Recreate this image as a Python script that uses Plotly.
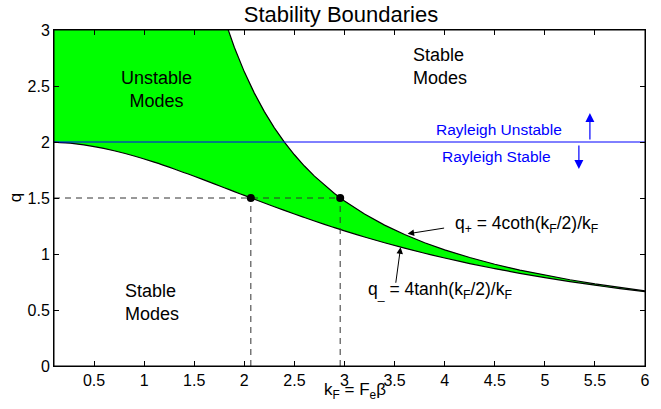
import plotly.graph_objects as go

# k_F grid and the two boundary curves
k_vals = [0.1, 0.3, 0.5, 0.7, 0.9, 1.1, 1.3, 1.5, 1.7, 1.8, 1.9, 2.0, 2.1, 2.2, 2.3,
          2.4, 2.5, 2.6, 2.7, 2.8, 2.9, 3.0, 3.2, 3.4, 3.6, 3.8, 4.0, 4.25, 4.5,
          4.75, 5.0, 5.25, 5.5, 5.75, 6.0]
q_minus = [1.99833, 1.98513, 1.95935, 1.92215, 1.87511, 1.82007, 1.75898, 1.69373,
           1.62605, 1.59177, 1.55743, 1.52319, 1.48915, 1.45545, 1.42218, 1.38943,
           1.35725, 1.32573, 1.29489, 1.26479, 1.23543, 1.20686, 1.15209, 1.10048,
           1.05201, 1.00656, 0.96403, 0.91470, 0.86936, 0.82766, 0.78929, 0.75395,
           0.72135, 0.69124, 0.66337]
q_plus = [800.67, 89.555, 32.664, 16.988, 10.534, 7.2652, 5.3824, 4.1985, 3.4048,
          3.1024, 2.8458, 2.6261, 2.4364, 2.2713, 2.1267, 1.99923, 1.88616, 1.78533,
          1.69496, 1.61356, 1.53995, 1.47306, 1.35623, 1.25771, 1.17353, 1.10080,
          1.03732, 0.96842, 0.90886, 0.85680, 0.81085, 0.76994, 0.73324, 0.70009,
          0.66998]

# marked points where q = 1.5 meets the boundaries
mark_k = [2.065, 2.957]
mark_q = [1.5, 1.5]

rayleigh_q = 2.0
x_range = [0.1, 6.0]
y_range = [0, 3]

x_ticks = [0.5, 1, 1.5, 2, 2.5, 3, 3.5, 4, 4.5, 5, 5.5, 6]
x_tick_labels = ['0.5', '1', '1.5', '2', '2.5', '3', '3.5', '4', '4.5', '5', '5.5', '6']
y_ticks = [0, 0.5, 1, 1.5, 2, 2.5, 3]
y_tick_labels = ['0', '0.5', '1', '1.5', '2', '2.5', '3']

FONT = "Liberation Sans, Arial, Helvetica, sans-serif"

fig = go.Figure()

# lower boundary then upper boundary with fill between
fig.add_trace(go.Scatter(x=k_vals, y=q_minus, mode='lines', line=dict(color='black', width=1.2),
                         line_shape='spline', showlegend=False, hoverinfo='skip'))
fig.add_trace(go.Scatter(x=k_vals, y=q_plus, mode='lines', line=dict(color='black', width=1.2),
                         line_shape='linear', fill='tonexty', fillcolor='#00ff00',
                         showlegend=False, hoverinfo='skip'))

# Rayleigh line
fig.add_trace(go.Scatter(x=x_range, y=[rayleigh_q, rayleigh_q], mode='lines',
                         line=dict(color='#0000ff', width=1), showlegend=False, hoverinfo='skip'))

# dashed guides
fig.add_trace(go.Scatter(x=[x_range[0], mark_k[1]], y=[mark_q[0], mark_q[1]], mode='lines',
                         line=dict(color='#333333', width=1, dash='6px,5px'),
                         showlegend=False, hoverinfo='skip'))
for kk, qq in zip(mark_k, mark_q):
    fig.add_trace(go.Scatter(x=[kk, kk], y=[0, qq], mode='lines',
                             line=dict(color='#333333', width=1, dash='6px,5px'),
                             showlegend=False, hoverinfo='skip'))

# marked points
fig.add_trace(go.Scatter(x=mark_k, y=mark_q, mode='markers',
                         marker=dict(color='black', size=8), showlegend=False, hoverinfo='skip'))

annotations = [
    dict(x=1.12, y=2.47, text="Unstable<br>Modes", showarrow=False,
         font=dict(size=18, color='black', family=FONT), align='center'),
    dict(x=3.66, y=2.675, text="Stable<br>Modes", showarrow=False,
         font=dict(size=18, color='black', family=FONT), align='left', xanchor='left'),
    dict(x=0.785, y=0.567, text="Stable<br>Modes", showarrow=False,
         font=dict(size=18, color='black', family=FONT), align='left', xanchor='left'),
    dict(x=4.545, y=2.11, text="Rayleigh Unstable", showarrow=False,
         font=dict(size=15.5, color='#0000ff', family=FONT)),
    dict(x=4.52, y=1.87, text="Rayleigh Stable", showarrow=False,
         font=dict(size=15.5, color='#0000ff', family=FONT)),
    dict(x=4.08, y=1.26, text="q<sub>+</sub> = 4coth(k<sub>F</sub>/2)/k<sub>F</sub>", showarrow=False,
         xanchor='left', font=dict(size=17.5, color='black', family=FONT)),
    dict(x=3.215, y=0.67, text="q<sub>_</sub> = 4tanh(k<sub>F</sub>/2)/k<sub>F</sub>", showarrow=False,
         xanchor='left', font=dict(size=17.5, color='black', family=FONT)),
    # arrows to curves
    dict(x=3.63, y=1.18, ax=38, ay=-6, text="", showarrow=True, arrowhead=2,
         arrowsize=1.3, arrowwidth=1, arrowcolor='black'),
    dict(x=3.56, y=1.06, ax=-5, ay=37, text="", showarrow=True, arrowhead=2,
         arrowsize=1.3, arrowwidth=1, arrowcolor='black'),
    # blue arrows
    dict(x=5.45, y=2.26, ax=0, ay=28, text="", showarrow=True, arrowhead=2,
         arrowsize=1.5, arrowwidth=1.2, arrowcolor='#0000ff'),
    dict(x=5.34, y=1.76, ax=0, ay=-25, text="", showarrow=True, arrowhead=2,
         arrowsize=1.5, arrowwidth=1.2, arrowcolor='#0000ff'),
    # axis titles
    dict(x=0.51, y=-0.074, xref='paper', yref='paper', showarrow=False,
         xanchor='center', yanchor='middle',
         text="k<sub>F</sub> = F<sub>e</sub>β", font=dict(size=17, color='black', family=FONT)),
    dict(x=-0.0654, y=0.5, xref='paper', yref='paper', showarrow=False,
         xanchor='center', yanchor='middle', textangle=-90,
         text="q", font=dict(size=17, color='black', family=FONT)),
]

fig.update_layout(
    width=661, height=409,
    margin=dict(l=54, r=11, t=30, b=43),
    paper_bgcolor='white', plot_bgcolor='white',
    title=dict(text="Stability Boundaries", x=341 / 661, xanchor='center',
               y=1 - 14 / 409, yanchor='middle', font=dict(size=22, color='black', family=FONT)),
    font=dict(family=FONT, color='black'),
    annotations=annotations,
    hovermode=False,
    shapes=[dict(type='rect', xref='paper', yref='paper', x0=0, y0=0, x1=1, y1=1,
                 line=dict(color='black', width=1), layer='above')],
    xaxis=dict(range=x_range, tickvals=x_ticks, ticktext=x_tick_labels, showgrid=False,
               zeroline=False, showline=True, linecolor='black', linewidth=1, mirror='ticks',
               ticks='inside', ticklen=5, tickcolor='black', tickfont=dict(size=16)),
    yaxis=dict(range=y_range, tickvals=y_ticks, ticktext=y_tick_labels, showgrid=False,
               zeroline=False, showline=True, linecolor='black', linewidth=1, mirror='ticks',
               ticks='inside', ticklen=5, tickcolor='black', tickfont=dict(size=16)),
)

# remove the default page margin so the 661x409 figure fills the window exactly
fig.write_html("out.html", config={'displayModeBar': False, 'staticPlot': True},
               post_script="document.body.style.margin='0';document.body.style.overflow='hidden';")
